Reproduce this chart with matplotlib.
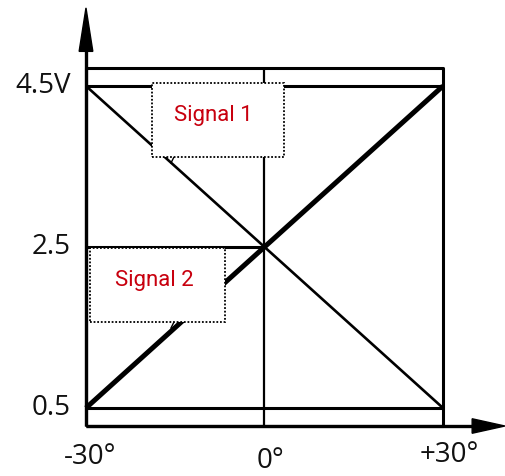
import matplotlib
matplotlib.use("Agg")
import matplotlib.pyplot as plt
from matplotlib.patches import Rectangle, Polygon

# Data
angles = [-30, 0, 30]                     # degrees
angle_labels = ["-30°", "0°", "+30°"]
volt_ticks = [0.5, 2.5, 4.5]
volt_labels = ["0.5", "2.5", "4.5V"]
signal1 = [4.5, 2.5, 0.5]                 # decreasing
signal2 = [0.5, 2.5, 4.5]                 # increasing
frame_y = [0.276, 4.724]

W, H = 505, 476
fig = plt.figure(figsize=(W / 100, H / 100), dpi=100)
ax = fig.add_axes([0, 0, 1, 1])
ax.set_xlim(-44.45, 40.42)
ax.set_ylim(-0.345, 5.568)
ax.axis("off")

k = dict(color="black", solid_capstyle="butt", clip_on=False)
x0, x1 = angles[0], angles[-1]
yb, yt = frame_y

# Frame
ax.plot([x0, x1, x1, x0, x0], [yb, yb, yt, yt, yb], lw=2.2, **k)
# horizontal reference lines
ax.plot([x0, x1], [volt_ticks[2]] * 2, lw=2.2, **k)
ax.plot([x0, x1], [volt_ticks[0]] * 2, lw=2.2, **k)
ax.plot([x0, angles[1]], [volt_ticks[1]] * 2, lw=2.2, **k)
# vertical at 0
ax.plot([angles[1]] * 2, [yb, yt], lw=1.6, **k)

# signals
ax.plot(angles, signal1, lw=1.9, **k)
ax.plot(angles, signal2, lw=3.6, **k)

# axes with arrows
ax.plot([x0, x0], [yb, 5.0], lw=2.4, **k)
ax.add_patch(Polygon([[x0 - 1.15, 4.93], [x0 + 1.15, 4.93], [x0, 5.47]],
                     closed=True, color="black", clip_on=False))
ax.plot([x0, 35.5], [yb, yb], lw=2.4, **k)
ax.add_patch(Polygon([[34.9, yb + 0.09], [34.9, yb - 0.09], [40.4, yb]],
                     closed=True, color="black", clip_on=False))

# tick labels
lab_font = dict(family="Open Sans", fontsize=20, color="#111111")
for v, lab in zip(volt_ticks, volt_labels):
    ax.text(-32.6, v, lab, ha="right", va="center", **lab_font)
ax.text(-29.3, -0.11, angle_labels[0], ha="center", va="center", **lab_font)
ax.text(1.0, -0.16, angle_labels[1], ha="center", va="center", **lab_font)
ax.text(31.0, -0.09, angle_labels[2], ha="center", va="center", **lab_font)

# label boxes
red = "#c8000e"
def label_box(xl, xr, ytop, ybot, text, tx, ty, lead):
    ax.add_patch(Rectangle((xl, ybot), xr - xl, ytop - ybot, facecolor="white",
                           edgecolor="black", lw=1.3, ls=(0, (1, 1)), zorder=5,
                           clip_on=False))
    ax.text(tx, ty, text, ha="center", va="center", color=red,
            family="Roboto", fontsize=16, fontweight="normal", zorder=6)
    ax.plot(lead[0], lead[1], color="black", lw=1.0, zorder=4)

px = lambda p: -30 + (p - 86) / 5.95
py = lambda p: 0.5 + (408 - p) / 80.5
label_box(px(152), px(284), py(83), py(157), "Signal 1", px(213), py(116),
          ([px(174), px(171)], [py(157), py(163)]))
label_box(px(90), px(225), py(248), py(322), "Signal 2", px(154), py(281),
          ([px(174), px(171)], [py(322), py(328)]))

fig.savefig("out.png", dpi=100)
